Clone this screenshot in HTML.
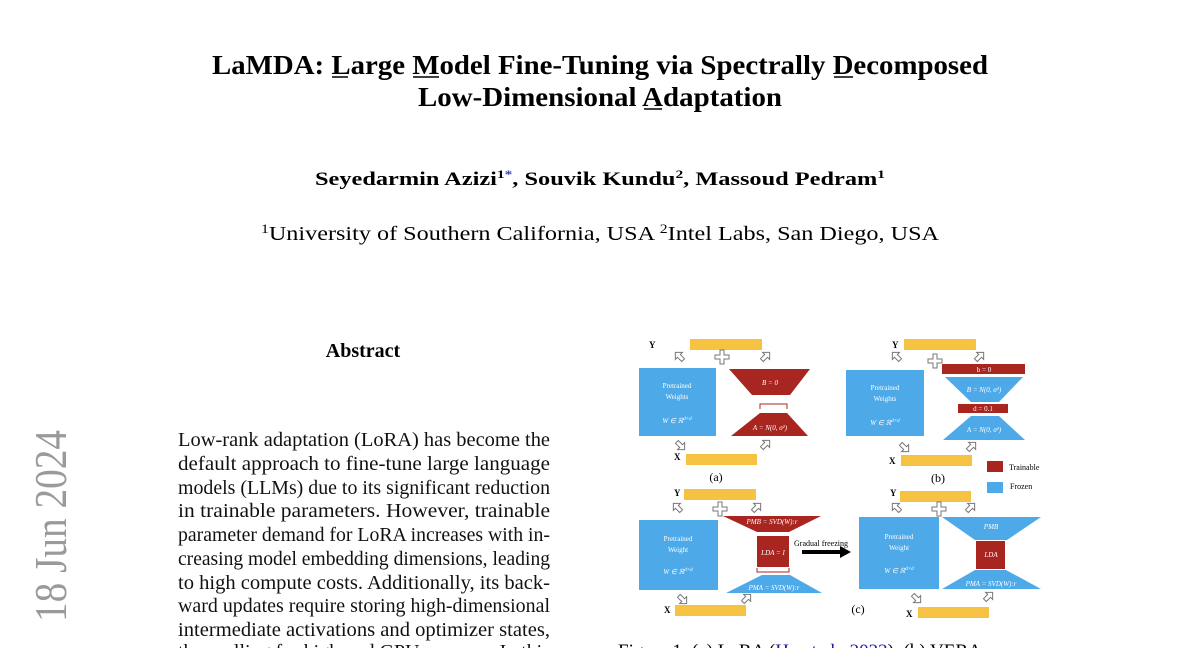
<!DOCTYPE html>
<html><head><meta charset="utf-8"><style>
html,body{margin:0;padding:0;background:#fff;width:1200px;height:648px;overflow:hidden}
svg{display:block}
text{font-family:"Liberation Serif",serif}
</style></head><body>
<svg width="1200" height="648" viewBox="0 0 1200 648" xmlns="http://www.w3.org/2000/svg">
<defs>
<g id="arr"><path d="M-3,-2 L3,-2 L3,-5 L8,0 L3,5 L3,2 L-3,2 Z" fill="#fff" stroke="#777" stroke-width="1"/></g>
<g id="plus"><path d="M-2,-7 H2 V-2 H7 V2 H2 V7 H-2 V2 H-7 V-2 H-2 Z" fill="#fff" stroke="#777" stroke-width="1"/></g>
</defs>
<text x="600" y="74" font-size="27" font-weight="bold" text-anchor="middle" textLength="776" lengthAdjust="spacingAndGlyphs">LaMDA: Large Model Fine-Tuning via Spectrally Decomposed</text>
<text x="600" y="106" font-size="27" font-weight="bold" text-anchor="middle" textLength="364" lengthAdjust="spacingAndGlyphs">Low-Dimensional Adaptation</text>
<line x1="332" y1="77" x2="348" y2="77" stroke="#000" stroke-width="1.5"/>
<line x1="413" y1="77" x2="439" y2="77" stroke="#000" stroke-width="1.5"/>
<line x1="834" y1="77" x2="853" y2="77" stroke="#000" stroke-width="1.5"/>
<line x1="644" y1="109" x2="662" y2="109" stroke="#000" stroke-width="1.5"/>
<text x="600" y="185" font-size="19" font-weight="bold" text-anchor="middle" textLength="570" lengthAdjust="spacingAndGlyphs">Seyedarmin Azizi<tspan font-size="12" dy="-7">1</tspan><tspan font-size="12" fill="#3344cc">*</tspan><tspan dy="7">, Souvik Kundu</tspan><tspan font-size="12" dy="-7">2</tspan><tspan dy="7">, Massoud Pedram</tspan><tspan font-size="12" dy="-7">1</tspan></text>
<text x="600" y="240" font-size="20" text-anchor="middle" textLength="678" lengthAdjust="spacingAndGlyphs"><tspan font-size="13" dy="-7">1</tspan><tspan dy="7">University of Southern California, USA </tspan><tspan font-size="13" dy="-7">2</tspan><tspan dy="7">Intel Labs, San Diego, USA</tspan></text>
<text x="363" y="357" font-size="20" font-weight="bold" text-anchor="middle">Abstract</text>
<g font-size="20" fill="#111">
<text x="178" y="446" textLength="372" lengthAdjust="spacingAndGlyphs">Low-rank adaptation (LoRA) has become the</text>
<text x="178" y="470" textLength="372" lengthAdjust="spacingAndGlyphs">default approach to fine-tune large language</text>
<text x="178" y="494" textLength="372" lengthAdjust="spacingAndGlyphs">models (LLMs) due to its significant reduction</text>
<text x="178" y="517" textLength="372" lengthAdjust="spacingAndGlyphs">in trainable parameters.  However, trainable</text>
<text x="178" y="541" textLength="372" lengthAdjust="spacingAndGlyphs">parameter demand for LoRA increases with in-</text>
<text x="178" y="565" textLength="372" lengthAdjust="spacingAndGlyphs">creasing model embedding dimensions, leading</text>
<text x="178" y="589" textLength="372" lengthAdjust="spacingAndGlyphs">to high compute costs.  Additionally, its back-</text>
<text x="178" y="612" textLength="372" lengthAdjust="spacingAndGlyphs">ward updates require storing high-dimensional</text>
<text x="178" y="636" textLength="372" lengthAdjust="spacingAndGlyphs">intermediate activations and optimizer states,</text>
<text x="178" y="658" textLength="372" lengthAdjust="spacingAndGlyphs">thus calling for high-end GPU memory. In this</text>
</g>
<text transform="translate(66,622) rotate(-90)" font-size="46" fill="#9a9a9a" textLength="192" lengthAdjust="spacingAndGlyphs">18 Jun 2024</text>

<g font-size="9" font-weight="bold">
<text x="649" y="348">Y</text>
<rect x="690" y="339" width="72" height="11" fill="#F5C242"/>
<use href="#arr" transform="translate(681,358) rotate(-135)"/>
<use href="#arr" transform="translate(764,358) rotate(-45)"/>
<use href="#plus" transform="translate(722,357)"/>
<rect x="639" y="368" width="77" height="68" fill="#4EA9E8"/>
<polygon points="729,369 810,369 790,395 752,395" fill="#A82520"/>
<path d="M760,409 V404 H787 V409" fill="none" stroke="#A82520" stroke-width="1"/>
<polygon points="760,413 787,413 808,436 731,436" fill="#A82520"/>
<text x="674" y="460">X</text>
<rect x="686" y="454" width="71" height="11" fill="#F5C242"/>
<use href="#arr" transform="translate(679,444) rotate(45)"/>
<use href="#arr" transform="translate(764,446) rotate(-45)"/>
<text x="716" y="481" font-size="12" font-weight="normal" text-anchor="middle">(a)</text>
<text x="892" y="348">Y</text>
<rect x="904" y="339" width="72" height="11" fill="#F5C242"/>
<use href="#arr" transform="translate(898,358) rotate(-135)"/>
<use href="#arr" transform="translate(978,358) rotate(-45)"/>
<use href="#plus" transform="translate(935,361)"/>
<rect x="846" y="370" width="78" height="66" fill="#4EA9E8"/>
<rect x="942" y="364" width="83" height="10" fill="#A82520"/>
<polygon points="945,377 1023,377 999,402 971,402" fill="#4EA9E8"/>
<rect x="958" y="404" width="50" height="9" fill="#A82520"/>
<polygon points="971,416 999,416 1025,440 943,440" fill="#4EA9E8"/>
<text x="889" y="464">X</text>
<rect x="901" y="455" width="71" height="11" fill="#F5C242"/>
<use href="#arr" transform="translate(903,446) rotate(45)"/>
<use href="#arr" transform="translate(970,448) rotate(-45)"/>
<text x="938" y="482" font-size="12" font-weight="normal" text-anchor="middle">(b)</text>
<rect x="987" y="461" width="16" height="11" fill="#A82520"/>
<text x="1009" y="470" font-size="8" font-weight="normal">Trainable</text>
<rect x="987" y="482" width="16" height="11" fill="#4EA9E8"/>
<text x="1010" y="489" font-size="8" font-weight="normal">Frozen</text>
<text x="674" y="496">Y</text>
<rect x="684" y="489" width="72" height="11" fill="#F5C242"/>
<use href="#arr" transform="translate(679,509) rotate(-135)"/>
<use href="#arr" transform="translate(755,509) rotate(-45)"/>
<use href="#plus" transform="translate(720,509)"/>
<rect x="639" y="520" width="79" height="70" fill="#4EA9E8"/>
<polygon points="723,516 821,516 789,532 757,532" fill="#A82520"/>
<rect x="757" y="536" width="32" height="31" fill="#A82520"/>
<path d="M757,568 V572 H789 V568" fill="none" stroke="#A82520" stroke-width="1"/>
<polygon points="762,575 790,575 822,593 726,593" fill="#4EA9E8"/>
<text x="664" y="613">X</text>
<rect x="675" y="605" width="71" height="11" fill="#F5C242"/>
<use href="#arr" transform="translate(681,598) rotate(45)"/>
<use href="#arr" transform="translate(745,600) rotate(-45)"/>
<text x="794" y="546" font-size="8" font-weight="normal">Gradual freezing</text>
<rect x="802" y="550" width="40" height="4" fill="#000"/>
<polygon points="840,546 851,552 840,558" fill="#000"/>
<text x="858" y="613" font-size="12" font-weight="normal" text-anchor="middle">(c)</text>
<text x="890" y="496">Y</text>
<rect x="900" y="491" width="71" height="11" fill="#F5C242"/>
<use href="#arr" transform="translate(898,509) rotate(-135)"/>
<use href="#arr" transform="translate(969,509) rotate(-45)"/>
<use href="#plus" transform="translate(939,509)"/>
<rect x="859" y="517" width="80" height="72" fill="#4EA9E8"/>
<polygon points="942,517 1041,517 1007,540 975,540" fill="#4EA9E8"/>
<rect x="976" y="541" width="29" height="28" fill="#A82520"/>
<polygon points="975,570 1006,570 1041,589 942,589" fill="#4EA9E8"/>
<text x="906" y="617">X</text>
<rect x="918" y="607" width="71" height="11" fill="#F5C242"/>
<use href="#arr" transform="translate(915,597) rotate(45)"/>
<use href="#arr" transform="translate(987,598) rotate(-45)"/>
</g>
<g font-size="7" fill="#fff" font-style="italic" text-anchor="middle">
<text x="677" y="388" font-style="normal">Pretrained</text>
<text x="677" y="399" font-style="normal">Weights</text>
<text x="677" y="423">W ∈ ℝ<tspan font-size="5" dy="-3">d×d</tspan></text>
<text x="770" y="385">B = 0</text>
<text x="770" y="430">A = N(0, σ²)</text>
<text x="885" y="390" font-style="normal">Pretrained</text>
<text x="885" y="401" font-style="normal">Weights</text>
<text x="885" y="425">W ∈ ℝ<tspan font-size="5" dy="-3">d×d</tspan></text>
<text x="984" y="372" font-style="normal">b = 0</text>
<text x="984" y="392">B = N(0, σ²)</text>
<text x="983" y="411" font-style="normal">d = 0.1</text>
<text x="984" y="432">A = N(0, σ²)</text>
<text x="678" y="541" font-style="normal">Pretrained</text>
<text x="678" y="552" font-style="normal">Weight</text>
<text x="678" y="574">W ∈ ℝ<tspan font-size="5" dy="-3">d×d</tspan></text>
<text x="772" y="524">PMB = SVD(W):r</text>
<text x="773" y="555">LDA = I</text>
<text x="774" y="590">PMA = SVD(W):r</text>
<text x="899" y="539" font-style="normal">Pretrained</text>
<text x="899" y="550" font-style="normal">Weight</text>
<text x="899" y="573">W ∈ ℝ<tspan font-size="5" dy="-3">d×d</tspan></text>
<text x="991" y="529">PMB</text>
<text x="991" y="557">LDA</text>
<text x="991" y="586">PMA = SVD(W):r</text>
</g>
<text x="618" y="657" font-size="19">Figure 1: (a) LoRA (<tspan fill="#1a1aa6">Hu et al., 2022</tspan>), (b) VERA</text>
</svg>
</body></html>
